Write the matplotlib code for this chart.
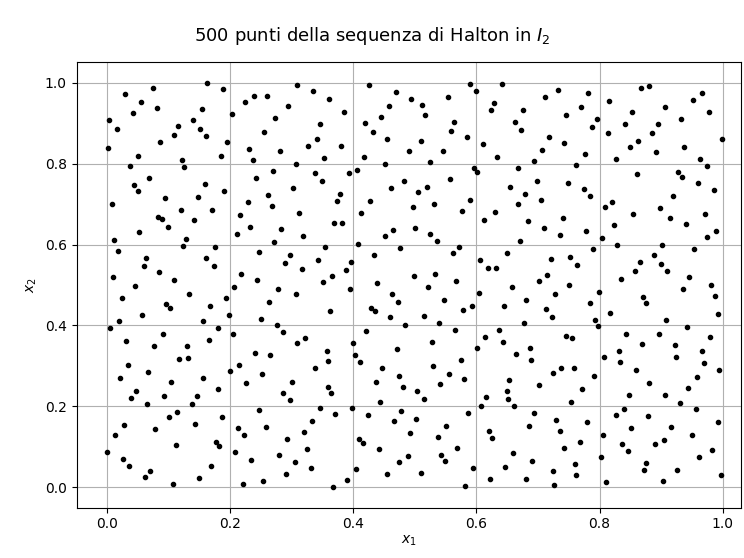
import numpy as np
import matplotlib.pyplot as plt

# coordinates of the 500 points in the unit square
x1 = [0.029, 0.074, 0.162, 0.188, 0.308, 0.055, 0.041, 0.080, 0.153, 0.202, 0.223, 0.238, 0.259, 0.294, 0.003, 0.015,
      0.139, 0.151, 0.115, 0.108, 0.161, 0.273, 0.255, 0.086, 0.194, 0.001, 0.231, 0.281, 0.050, 0.184, 0.121, 0.236,
      0.306, 0.036, 0.125, 0.269,
      0.335, 0.425, 0.589, 0.599, 0.641, 0.361, 0.469, 0.494, 0.553, 0.511, 0.457, 0.384, 0.628, 0.624, 0.445, 0.517,
      0.346, 0.419, 0.563, 0.663, 0.431, 0.559, 0.341, 0.455, 0.584, 0.510, 0.326, 0.380, 0.610, 0.490, 0.545, 0.352,
      0.417, 0.634, 0.524, 0.451, 0.405, 0.596, 0.601, 0.667, 0.338, 0.392,
      0.711, 0.733, 0.782, 0.867, 0.880, 0.815, 0.952, 0.966, 0.675, 0.770, 0.745, 0.853, 0.907, 0.978, 0.796, 0.932,
      0.673, 0.788, 0.841, 0.895, 0.814, 0.886, 0.718, 0.742, 0.863, 0.999, 0.849, 0.937, 0.707, 0.776, 0.892, 0.693,
      0.827, 0.964, 0.762, 0.974, 0.928, 0.861,
      0.068, 0.241, 0.043, 0.049, 0.159, 0.190, 0.302, 0.008, 0.094, 0.147, 0.228, 0.261, 0.267, 0.120, 0.170, 0.082,
      0.088, 0.098, 0.141, 0.216, 0.232, 0.283, 0.311, 0.052, 0.210, 0.011, 0.128, 0.271, 0.017, 0.123, 0.175, 0.246,
      0.063, 0.059, 0.161, 0.173, 0.297, 0.289, 0.084, 0.218, 0.009, 0.109, 0.244, 0.045, 0.206, 0.277,
      0.349, 0.482, 0.557, 0.461, 0.519, 0.505, 0.655, 0.378, 0.374, 0.427, 0.590, 0.531, 0.496, 0.667, 0.577, 0.630,
      0.413, 0.612, 0.368, 0.382, 0.500, 0.465, 0.452, 0.525, 0.535, 0.318, 0.408, 0.354, 0.476, 0.571, 0.561, 0.433,
      0.649, 0.343, 0.396, 0.606, 0.618, 0.632, 0.316, 0.388, 0.365, 0.498, 0.533, 0.350, 0.439, 0.566, 0.521, 0.394,
      0.657,
      0.934, 0.699, 0.748, 0.960, 0.774, 0.986, 0.679, 0.784, 0.920, 0.705, 0.820, 0.809, 0.898, 0.855, 0.972, 0.740,
      0.914, 0.683, 0.709, 0.823, 0.940, 0.735, 0.778, 0.989, 0.975, 0.804, 0.671, 0.829, 0.902, 0.790, 0.954, 0.721,
      0.752, 0.764, 0.889, 0.865, 0.900, 0.857, 0.910, 0.715, 0.701, 0.835, 0.946, 0.750, 0.982,
      0.133, 0.023, 0.192, 0.095, 0.102, 0.167, 0.263, 0.057, 0.198, 0.249, 0.019, 0.155, 0.005, 0.179, 0.275, 0.285,
      0.204, 0.090, 0.031, 0.165, 0.309, 0.076, 0.130, 0.117, 0.131, 0.240, 0.265, 0.033, 0.214, 0.200, 0.066, 0.252,
      0.021, 0.156, 0.104, 0.226, 0.300, 0.047, 0.180, 0.286, 0.038, 0.092, 0.145, 0.297,
      0.307, 0.463, 0.472, 0.547, 0.604, 0.362, 0.429, 0.435, 0.578, 0.592, 0.645, 0.459, 0.514, 0.484, 0.539, 0.421,
      0.565, 0.321, 0.614, 0.637, 0.399, 0.528, 0.643, 0.357, 0.470, 0.601, 0.665, 0.402, 0.359, 0.411, 0.575, 0.529,
      0.337, 0.446, 0.555, 0.474, 0.579, 0.653, 0.436, 0.541, 0.359, 0.481, 0.363, 0.503, 0.650, 0.616, 0.515, 0.651,
      0.680, 0.727, 0.799, 0.935, 0.871, 0.875, 0.988, 0.785, 0.713, 0.723, 0.817, 0.993, 0.677, 0.792, 0.798, 0.908,
      0.942, 0.746, 0.756, 0.843, 0.897, 0.979, 0.687, 0.869, 0.922, 0.689, 0.831, 0.808, 0.924, 0.967, 0.834, 0.970,
      0.738, 0.758, 0.724, 0.859, 0.995, 0.791, 0.958, 0.880, 0.702, 0.771, 0.944, 0.848, 0.906,
      0.064, 0.137, 0.113, 0.100, 0.186, 0.247, 0.027, 0.143, 0.258, 0.013, 0.078, 0.212, 0.222, 0.292, 0.176, 0.182,
      0.111, 0.000, 0.208, 0.025, 0.035, 0.233, 0.279, 0.305, 0.169, 0.070, 0.061, 0.149, 0.291, 0.106, 0.220, 0.253,
      0.443, 0.345, 0.398, 0.370, 0.333, 0.319, 0.423, 0.478, 0.466, 0.502, 0.492, 0.586, 0.608, 0.661, 0.551, 0.537,
      0.621, 0.625, 0.409, 0.415, 0.325, 0.441, 0.569, 0.542, 0.549, 0.659, 0.488, 0.474, 0.331, 0.404, 0.594, 0.647,
      0.454, 0.509, 0.390, 0.622, 0.366, 0.582,
      0.754, 0.930, 0.694, 0.826, 0.839, 0.956, 0.879, 0.685, 0.730, 0.736, 0.780, 0.992, 0.805, 0.851, 0.916, 0.950,
      0.768, 0.742, 0.837, 0.847, 0.890, 0.904, 0.983, 0.802, 0.962, 0.691, 0.760, 0.876, 0.724, 0.761, 0.873, 0.926,
      0.997, 0.680, 0.726, 0.811, 0.903]

x2 = [0.971, 0.986, 0.999, 0.985, 0.994, 0.952, 0.926, 0.937, 0.934, 0.923, 0.952, 0.968, 0.968, 0.943, 0.908, 0.886,
      0.908, 0.886, 0.892, 0.871, 0.868, 0.914, 0.877, 0.854, 0.854, 0.839, 0.835, 0.830, 0.820, 0.820, 0.809, 0.809,
      0.800, 0.794, 0.791, 0.783,
      0.979, 0.994, 0.997, 0.979, 0.997, 0.961, 0.976, 0.961, 0.965, 0.946, 0.943, 0.928, 0.950, 0.932, 0.916, 0.919,
      0.899, 0.900, 0.902, 0.904, 0.877, 0.880, 0.862, 0.862, 0.866, 0.857, 0.844, 0.844, 0.848, 0.830, 0.832, 0.815,
      0.817, 0.817, 0.803, 0.800, 0.785, 0.788, 0.780, 0.788, 0.778, 0.778,
      0.965, 0.982, 0.974, 0.988, 0.992, 0.956, 0.958, 0.974, 0.932, 0.941, 0.920, 0.928, 0.941, 0.928, 0.910, 0.910,
      0.883, 0.890, 0.897, 0.897, 0.875, 0.875, 0.865, 0.851, 0.857, 0.860, 0.842, 0.842, 0.833, 0.824, 0.828, 0.806,
      0.812, 0.812, 0.797, 0.794, 0.780, 0.774,
      0.764, 0.764, 0.747, 0.732, 0.750, 0.732, 0.740, 0.701, 0.714, 0.717, 0.705, 0.723, 0.696, 0.686, 0.686, 0.669,
      0.663, 0.644, 0.660, 0.672, 0.644, 0.639, 0.678, 0.630, 0.626, 0.612, 0.613, 0.606, 0.585, 0.597, 0.593, 0.582,
      0.567, 0.546, 0.567, 0.546, 0.575, 0.555, 0.531, 0.528, 0.519, 0.513, 0.513, 0.498, 0.496, 0.491,
      0.756, 0.758, 0.761, 0.740, 0.743, 0.729, 0.743, 0.725, 0.707, 0.707, 0.710, 0.699, 0.692, 0.699, 0.683, 0.681,
      0.677, 0.660, 0.654, 0.654, 0.641, 0.636, 0.621, 0.626, 0.608, 0.621, 0.602, 0.593, 0.591, 0.593, 0.579, 0.575,
      0.579, 0.561, 0.557, 0.561, 0.543, 0.543, 0.540, 0.537, 0.522, 0.522, 0.528, 0.507, 0.504, 0.510, 0.495, 0.490,
      0.494,
      0.766, 0.758, 0.752, 0.752, 0.738, 0.734, 0.726, 0.719, 0.719, 0.710, 0.705, 0.692, 0.690, 0.675, 0.675, 0.666,
      0.666, 0.657, 0.642, 0.648, 0.651, 0.624, 0.633, 0.634, 0.618, 0.615, 0.609, 0.600, 0.600, 0.588, 0.588, 0.565,
      0.570, 0.549, 0.574, 0.556, 0.553, 0.534, 0.534, 0.525, 0.509, 0.516, 0.519, 0.501, 0.501,
      0.478, 0.468, 0.468, 0.453, 0.444, 0.449, 0.458, 0.426, 0.426, 0.416, 0.411, 0.411, 0.393, 0.393, 0.402, 0.384,
      0.378, 0.378, 0.362, 0.365, 0.356, 0.348, 0.348, 0.318, 0.320, 0.332, 0.327, 0.303, 0.303, 0.287, 0.285, 0.279,
      0.269, 0.269, 0.261, 0.258, 0.261, 0.239, 0.243, 0.234, 0.220, 0.225, 0.225, 0.215,
      0.477, 0.477, 0.458, 0.462, 0.481, 0.435, 0.444, 0.435, 0.438, 0.447, 0.447, 0.420, 0.423, 0.402, 0.405, 0.386,
      0.389, 0.370, 0.372, 0.389, 0.356, 0.360, 0.360, 0.338, 0.342, 0.345, 0.329, 0.327, 0.311, 0.309, 0.314, 0.300,
      0.294, 0.294, 0.281, 0.276, 0.267, 0.264, 0.261, 0.255, 0.249, 0.249, 0.232, 0.237, 0.237, 0.222, 0.217, 0.217,
      0.464, 0.478, 0.482, 0.489, 0.471, 0.455, 0.473, 0.455, 0.440, 0.422, 0.431, 0.428, 0.407, 0.413, 0.398, 0.413,
      0.396, 0.375, 0.369, 0.380, 0.380, 0.371, 0.345, 0.354, 0.351, 0.314, 0.336, 0.323, 0.323, 0.336, 0.309, 0.306,
      0.296, 0.296, 0.282, 0.290, 0.290, 0.276, 0.272, 0.257, 0.252, 0.243, 0.245, 0.228, 0.228,
      0.205, 0.205, 0.187, 0.173, 0.173, 0.190, 0.155, 0.157, 0.149, 0.128, 0.143, 0.146, 0.128, 0.119, 0.113, 0.101,
      0.104, 0.086, 0.086, 0.071, 0.053, 0.068, 0.081, 0.062, 0.053, 0.039, 0.026, 0.024, 0.033, 0.009, 0.009, 0.015,
      0.211, 0.197, 0.197, 0.182, 0.163, 0.137, 0.179, 0.188, 0.163, 0.170, 0.134, 0.184, 0.202, 0.200, 0.152, 0.125,
      0.140, 0.122, 0.119, 0.110, 0.095, 0.095, 0.098, 0.081, 0.066, 0.084, 0.078, 0.062, 0.048, 0.044, 0.048, 0.051,
      0.033, 0.036, 0.017, 0.020, 0.000, 0.002,
      0.211, 0.208, 0.184, 0.179, 0.193, 0.193, 0.175, 0.152, 0.167, 0.139, 0.161, 0.161, 0.130, 0.146, 0.148, 0.130,
      0.113, 0.098, 0.107, 0.089, 0.107, 0.116, 0.092, 0.074, 0.075, 0.066, 0.057, 0.060, 0.039, 0.030, 0.042, 0.042,
      0.030, 0.020, 0.006, 0.012, 0.015]

fig = plt.figure(figsize=(7.44, 5.58), dpi=100)
ax = fig.add_axes([0.103, 0.0905, 0.893, 0.7975])

ax.plot(np.array(x1), np.array(x2), "k.")
ax.set_xlim(-0.05, 1.03)
ax.set_ylim(-0.05, 1.05)
fig.suptitle("500 punti della sequenza di Halton in $I_2$", fontsize=13, y=0.955)
ax.set_xlabel("$x_1$", labelpad=2)
ax.set_ylabel("$x_2$")
ax.grid()

fig.savefig("out.png", dpi=100)
